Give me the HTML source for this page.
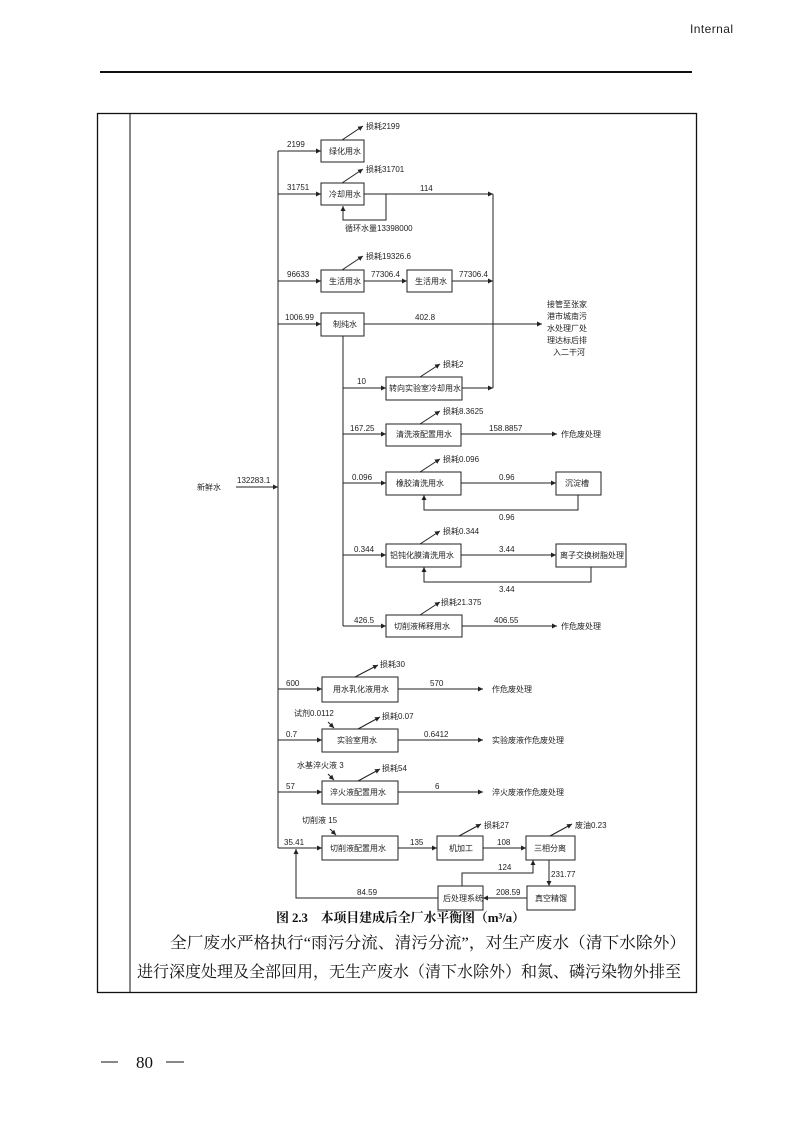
<!DOCTYPE html>
<html><head><meta charset="utf-8"><style>
html,body{margin:0;padding:0;background:#fff;}
svg{display:block;}
.t{font-family:"Liberation Sans","Noto Sans CJK SC",sans-serif;font-size:8px;fill:#222;}
.c{font-family:"Liberation Serif","Noto Serif CJK SC",serif;font-size:16px;fill:#111;}
</style></head><body>
<svg width="793" height="1122" viewBox="0 0 793 1122" xmlns="http://www.w3.org/2000/svg">
<defs><marker id="a" markerWidth="6" markerHeight="6" refX="5" refY="3" orient="auto" markerUnits="userSpaceOnUse"><path d="M0,0.5 L5,3 L0,5.5z" fill="#222"/></marker></defs>
<text x="690" y="33" font-family="Liberation Sans,sans-serif" font-size="12" fill="#222" textLength="43">Internal</text>
<line x1="100" y1="72" x2="692" y2="72" stroke="#111" stroke-width="2"/>
<rect x="97.5" y="113.5" width="599" height="879" fill="none" stroke="#111" stroke-width="1.3"/>
<line x1="130" y1="113" x2="130" y2="992" stroke="#111" stroke-width="1"/>
<g stroke="#222" stroke-width="1" fill="none">
<line x1="278" y1="151" x2="278" y2="848"/>
<line x1="236" y1="487" x2="278" y2="487" marker-end="url(#a)"/>
<line x1="278" y1="151" x2="321" y2="151" marker-end="url(#a)"/>
<line x1="278" y1="194" x2="321" y2="194" marker-end="url(#a)"/>
<line x1="278" y1="281" x2="321" y2="281" marker-end="url(#a)"/>
<line x1="278" y1="324" x2="321" y2="324" marker-end="url(#a)"/>
<line x1="278" y1="689" x2="322" y2="689" marker-end="url(#a)"/>
<line x1="278" y1="740" x2="322" y2="740" marker-end="url(#a)"/>
<line x1="278" y1="792" x2="322" y2="792" marker-end="url(#a)"/>
<line x1="278" y1="848" x2="322" y2="848" marker-end="url(#a)"/>
<rect x="321" y="140" width="43" height="22"/>
<rect x="321" y="183" width="43" height="22"/>
<rect x="321" y="270" width="43" height="22"/>
<rect x="407" y="270" width="45" height="22"/>
<rect x="321" y="313" width="43" height="23"/>
<rect x="386" y="377" width="76" height="23"/>
<rect x="386" y="424" width="75" height="22"/>
<rect x="386" y="472" width="75" height="23"/>
<rect x="556" y="472" width="45" height="23"/>
<rect x="386" y="544" width="75" height="23"/>
<rect x="556" y="544" width="70" height="23"/>
<rect x="386" y="615" width="76" height="22"/>
<rect x="322" y="677" width="76" height="25"/>
<rect x="322" y="729" width="76" height="23"/>
<rect x="322" y="781" width="76" height="23"/>
<rect x="322" y="836" width="76" height="24"/>
<rect x="437" y="836" width="46" height="24"/>
<rect x="526" y="836" width="49" height="24"/>
<rect x="527" y="886" width="48" height="24"/>
<rect x="438" y="886" width="45" height="24"/>
<line x1="364" y1="194" x2="493" y2="194" marker-end="url(#a)"/>
<polyline points="386,194 386,220 343,220 343,206" marker-end="url(#a)"/>
<line x1="493" y1="194" x2="493" y2="388"/>
<line x1="364" y1="281" x2="407" y2="281" marker-end="url(#a)"/>
<line x1="452" y1="281" x2="493" y2="281" marker-end="url(#a)"/>
<line x1="364" y1="324" x2="542" y2="324" marker-end="url(#a)"/>
<line x1="462" y1="388" x2="493" y2="388" marker-end="url(#a)"/>
<line x1="343" y1="336" x2="343" y2="626"/>
<line x1="343" y1="388" x2="386" y2="388" marker-end="url(#a)"/>
<line x1="343" y1="434" x2="386" y2="434" marker-end="url(#a)"/>
<line x1="343" y1="483" x2="386" y2="483" marker-end="url(#a)"/>
<line x1="343" y1="555" x2="386" y2="555" marker-end="url(#a)"/>
<line x1="343" y1="626" x2="386" y2="626" marker-end="url(#a)"/>
<line x1="461" y1="434" x2="557" y2="434" marker-end="url(#a)"/>
<line x1="461" y1="483" x2="556" y2="483" marker-end="url(#a)"/>
<polyline points="578,495 578,510 424,510 424,495" marker-end="url(#a)"/>
<line x1="461" y1="555" x2="556" y2="555" marker-end="url(#a)"/>
<polyline points="591,567 591,582 424,582 424,567" marker-end="url(#a)"/>
<line x1="462" y1="626" x2="557" y2="626" marker-end="url(#a)"/>
<line x1="398" y1="689" x2="483" y2="689" marker-end="url(#a)"/>
<line x1="398" y1="740" x2="483" y2="740" marker-end="url(#a)"/>
<line x1="398" y1="792" x2="483" y2="792" marker-end="url(#a)"/>
<line x1="398" y1="848" x2="437" y2="848" marker-end="url(#a)"/>
<line x1="483" y1="848" x2="526" y2="848" marker-end="url(#a)"/>
<line x1="549" y1="860" x2="549" y2="886" marker-end="url(#a)"/>
<line x1="527" y1="898" x2="483" y2="898" marker-end="url(#a)"/>
<polyline points="462,886 462,873 533,873 533,860" marker-end="url(#a)"/>
<polyline points="438,898 296,898 296,849" marker-end="url(#a)"/>
<line x1="342" y1="140" x2="363" y2="126" marker-end="url(#a)"/>
<line x1="342" y1="183" x2="363" y2="169" marker-end="url(#a)"/>
<line x1="342" y1="270" x2="363" y2="256" marker-end="url(#a)"/>
<line x1="420" y1="377" x2="440" y2="364" marker-end="url(#a)"/>
<line x1="420" y1="424" x2="440" y2="411" marker-end="url(#a)"/>
<line x1="420" y1="472" x2="440" y2="459" marker-end="url(#a)"/>
<line x1="420" y1="544" x2="440" y2="531" marker-end="url(#a)"/>
<line x1="420" y1="615" x2="440" y2="602" marker-end="url(#a)"/>
<line x1="355" y1="677" x2="378" y2="665" marker-end="url(#a)"/>
<line x1="358" y1="729" x2="380" y2="717" marker-end="url(#a)"/>
<line x1="358" y1="781" x2="380" y2="769" marker-end="url(#a)"/>
<line x1="459" y1="836" x2="481" y2="824" marker-end="url(#a)"/>
<line x1="550" y1="836" x2="572" y2="824" marker-end="url(#a)"/>
<line x1="328" y1="722" x2="334" y2="728" marker-end="url(#a)"/>
<line x1="328" y1="774" x2="334" y2="780" marker-end="url(#a)"/>
<line x1="330" y1="829" x2="336" y2="835" marker-end="url(#a)"/>
</g>
<g class="t">
<text x="197" y="490">新鲜水</text><text x="237" y="483">132283.1</text>
<text x="287" y="147">2199</text><text x="287" y="190">31751</text><text x="287" y="277">96633</text><text x="285" y="320">1006.99</text>
<text x="286" y="686">600</text><text x="286" y="737">0.7</text><text x="286" y="789">57</text><text x="284" y="845">35.41</text>
<text x="329" y="154">绿化用水</text><text x="329" y="197">冷却用水</text><text x="329" y="284">生活用水</text><text x="415" y="284">生活用水</text><text x="333" y="327">制纯水</text>
<text x="389" y="391">转向实验室冷却用水</text><text x="396" y="437">清洗液配置用水</text><text x="396" y="486">橡胶清洗用水</text><text x="565" y="486">沉淀槽</text>
<text x="390" y="558">铝钝化膜清洗用水</text><text x="560" y="558">离子交换树脂处理</text><text x="394" y="629">切削液稀释用水</text>
<text x="333" y="692">用水乳化液用水</text><text x="337" y="743">实验室用水</text><text x="330" y="795">淬火液配置用水</text><text x="330" y="851">切削液配置用水</text>
<text x="449" y="851">机加工</text><text x="534" y="851">三相分离</text><text x="535" y="901">真空精馏</text><text x="443" y="901">后处理系统</text>
<text x="366" y="129">损耗2199</text><text x="366" y="172">损耗31701</text><text x="366" y="259">损耗19326.6</text>
<text x="345" y="231">循环水量13398000</text>
<text x="420" y="191">114</text><text x="371" y="277">77306.4</text><text x="459" y="277">77306.4</text><text x="415" y="320">402.8</text>
<text x="547" y="307">接管至张家</text><text x="547" y="319">港市城南污</text><text x="547" y="331">水处理厂处</text><text x="547" y="343">理达标后排</text><text x="553" y="355">入二干河</text>
<text x="357" y="384">10</text><text x="443" y="367">损耗2</text>
<text x="350" y="431">167.25</text><text x="443" y="414">损耗8.3625</text><text x="489" y="431">158.8857</text><text x="561" y="437">作危废处理</text>
<text x="352" y="480">0.096</text><text x="443" y="462">损耗0.096</text><text x="499" y="480">0.96</text><text x="499" y="520">0.96</text>
<text x="354" y="552">0.344</text><text x="443" y="534">损耗0.344</text><text x="499" y="552">3.44</text><text x="499" y="592">3.44</text>
<text x="354" y="623">426.5</text><text x="441" y="605">损耗21.375</text><text x="494" y="623">406.55</text><text x="561" y="629">作危废处理</text>
<text x="380" y="667">损耗30</text><text x="430" y="686">570</text><text x="492" y="692">作危废处理</text>
<text x="294" y="716">试剂0.0112</text><text x="382" y="719">损耗0.07</text><text x="424" y="737">0.6412</text><text x="492" y="743">实验废液作危废处理</text>
<text x="297" y="768">水基淬火液 3</text><text x="382" y="771">损耗54</text><text x="435" y="789">6</text><text x="492" y="795">淬火废液作危废处理</text>
<text x="302" y="823">切削液 15</text><text x="484" y="828">损耗27</text><text x="575" y="828">废油0.23</text>
<text x="410" y="845">135</text><text x="497" y="845">108</text><text x="498" y="870">124</text><text x="551" y="877">231.77</text><text x="496" y="895">208.59</text><text x="357" y="895">84.59</text>
</g>
<text x="276" y="922" font-family="Liberation Serif,Noto Serif CJK SC,serif" font-size="13" font-weight="bold" fill="#111" textLength="249">图 2.3　本项目建成后全厂水平衡图（m³/a）</text>
<text class="c" x="170" y="948" textLength="516" lengthAdjust="spacingAndGlyphs">全厂废水严格执行“雨污分流、清污分流”，对生产废水（清下水除外）</text>
<text class="c" x="137" y="977" textLength="544" lengthAdjust="spacingAndGlyphs">进行深度处理及全部回用，无生产废水（清下水除外）和氮、磷污染物外排至</text>
<line x1="101" y1="1062" x2="118" y2="1062" stroke="#111" stroke-width="1"/>
<text x="136" y="1068" font-family="Liberation Serif,serif" font-size="17" fill="#111">80</text>
<line x1="166" y1="1062" x2="184" y2="1062" stroke="#111" stroke-width="1"/>
</svg>
</body></html>
